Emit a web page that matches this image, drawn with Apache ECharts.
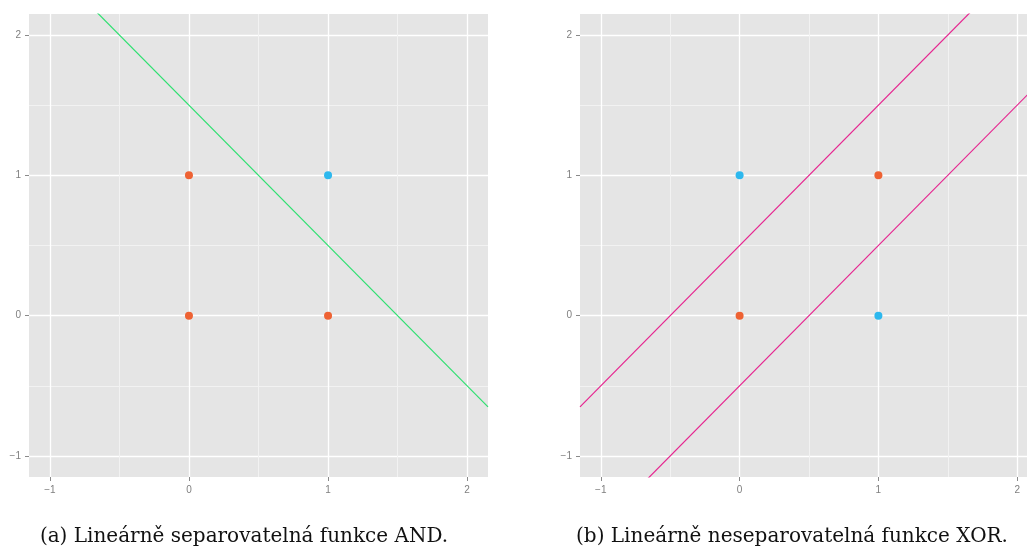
<!DOCTYPE html>
<html><head><meta charset="utf-8">
<script src="https://cdn.jsdelivr.net/npm/echarts@6/dist/echarts.min.js"></script>
<style>html,body{margin:0;padding:0;background:#fff}#c{width:1027px;height:549px}</style>
</head><body><div id="c"></div>
<script>
// ---- data ----
const axisMin = -1.15, axisMax = 2.15;
const majorTicks = [-1, 0, 1, 2];
const minorTicks = [-0.5, 0.5, 1.5];
const tickLabels = ['\u22121', '0', '1', '2'];
const andPositive = [[1, 1]];
const andNegative = [[0, 0], [0, 1], [1, 0]];
const xorPositive = [[0, 1], [1, 0]];
const xorNegative = [[0, 0], [1, 1]];
const andBoundary = [[-1.15, 2.65], [2.15, -0.65]];
const xorBoundaryUpper = [[-1.15, -0.65], [2.15, 2.65]];
const xorBoundaryLower = [[-1.15, -1.65], [2.15, 1.65]];
const captions = ['(a) Lineárně separovatelná funkce AND.', '(b) Lineárně neseparovatelná funkce XOR.'];

// ---- styles ----
const RED = '#EE6233', BLUE = '#2DB8EE', GREEN = '#2EE070', MAGENTA = '#E6248F';
const grids = [
  {left: 29, top: 14, width: 459, height: 463, show: true, backgroundColor: '#E5E5E5', borderWidth: 0,
   containLabel: false, outerBoundsMode: 'none'},
  {left: 580, top: 14, width: 458, height: 463, show: true, backgroundColor: '#E5E5E5', borderWidth: 0,
   containLabel: false, outerBoundsMode: 'none'}
];

function minorAxis(g, pos) {
  return {
    type: 'value', gridIndex: g, min: axisMin, max: axisMax, position: pos,
    axisLine: {show: false, onZero: false},
    axisTick: {show: false, customValues: minorTicks},
    axisLabel: {show: false, customValues: minorTicks},
    splitLine: {show: true, lineStyle: {color: '#F2F2F2', width: 1}}
  };
}
function majorAxis(g, pos) {
  return {
    type: 'value', gridIndex: g, min: axisMin, max: axisMax, position: pos,
    axisLine: {show: false, onZero: false},
    axisTick: {show: true, length: 4, customValues: majorTicks, lineStyle: {color: '#8a8a8a', width: 1}},
    axisLabel: {
      show: true, customValues: majorTicks, margin: 8, color: '#7f7f7f', fontSize: 10,
      fontFamily: 'Liberation Sans',
      formatter: v => tickLabels[majorTicks.indexOf(v)]
    },
    splitLine: {show: true, lineStyle: {color: '#FFFFFF', width: 1.3}}
  };
}
const xAxis = [minorAxis(0, 'bottom'), majorAxis(0, 'bottom'), minorAxis(1, 'bottom'), majorAxis(1, 'bottom')];
const yAxis = [minorAxis(0, 'left'), majorAxis(0, 'left'), minorAxis(1, 'left'), majorAxis(1, 'left')];

function lineSeries(data, axis, color) {
  return {type: 'line', data: data, xAxisIndex: axis, yAxisIndex: axis, showSymbol: false, symbol: 'none',
    clip: true, silent: true, lineStyle: {color: color, width: 1.2}, z: 3};
}
function pointSeries(data, axis, color) {
  return {type: 'scatter', data: data, xAxisIndex: axis, yAxisIndex: axis, symbolSize: 8,
    itemStyle: {color: color, opacity: 1}, z: 4};
}

const chart = echarts.init(document.getElementById('c'), null, {renderer: 'canvas'});
chart.setOption({
  animation: false,
  grid: grids,
  xAxis: xAxis,
  yAxis: yAxis,
  series: [
    lineSeries(andBoundary, 1, GREEN),
    pointSeries(andNegative, 1, RED),
    pointSeries(andPositive, 1, BLUE),
    lineSeries(xorBoundaryUpper, 3, MAGENTA),
    lineSeries(xorBoundaryLower, 3, MAGENTA),
    pointSeries(xorNegative, 3, RED),
    pointSeries(xorPositive, 3, BLUE)
  ],
  graphic: [
    {type: 'text', x: 244, y: 537, style: {text: captions[0], align: 'center', verticalAlign: 'middle',
      font: '20px "DejaVu Serif"', fill: '#111'}},
    {type: 'text', x: 792, y: 537, style: {text: captions[1], align: 'center', verticalAlign: 'middle',
      font: '20px "DejaVu Serif"', fill: '#111'}}
  ]
});
</script></body></html>
